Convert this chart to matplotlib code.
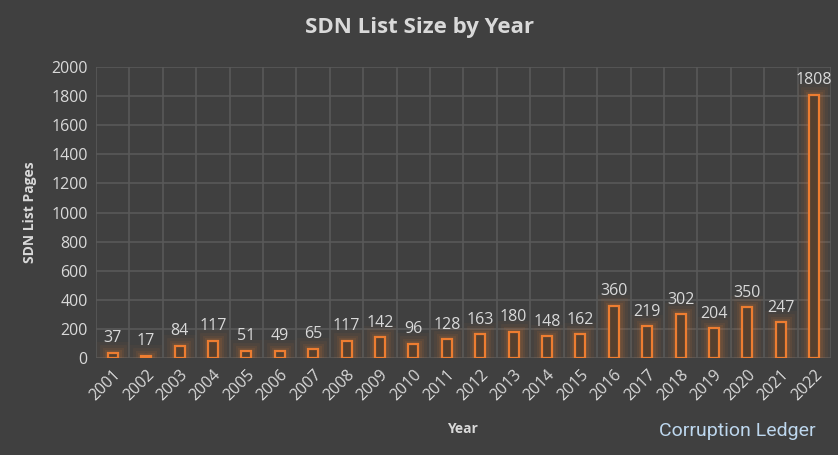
import matplotlib
matplotlib.use("Agg")
import matplotlib.pyplot as plt
import numpy as np

years = [str(y) for y in range(2001, 2023)]
pages = [37, 17, 84, 117, 51, 49, 65, 117, 142, 96, 128, 163, 180, 148, 162,
         360, 219, 302, 204, 350, 247, 1808]
y_ticks = list(range(0, 2001, 200))

BG = "#404040"
GRID = "#595959"
ORANGE = "#ED7D31"
TEXT = "#D9D9D9"

plt.rcParams["font.family"] = ["Open Sans", "DejaVu Sans"]

fig = plt.figure(figsize=(8.38, 4.55), dpi=100, facecolor=BG)
ax = fig.add_axes([0.1146, 0.2132, 0.8770, 0.6395], facecolor=BG)

x = np.arange(len(years))

# glow: wide, faint orange layers under each bar
for lw, a in [(16, 0.04), (12, 0.06), (8, 0.08), (5, 0.10)]:
    ax.bar(x, pages, width=0.3, facecolor="none", edgecolor=ORANGE,
           linewidth=lw, alpha=a, zorder=2)
ax.bar(x, pages, width=0.3, facecolor="#55402f", edgecolor=ORANGE,
       linewidth=1.6, zorder=3)

for xi, v in zip(x, pages):
    ax.text(xi, v + 45, str(v), ha="center", va="bottom", color=TEXT,
            fontsize=11.5, zorder=4)

ax.set_xlim(-0.5, len(years) - 0.5)
ax.set_ylim(0, 2000)
ax.set_yticks(y_ticks)
ax.set_yticklabels([str(t) for t in y_ticks], color=TEXT, fontsize=11.5)
ax.set_xticks(x)
ax.set_xticklabels(years, rotation=45, ha="right", rotation_mode="anchor",
                   color=TEXT, fontsize=11.5)
ax.set_xticks(np.arange(-0.5, len(years)), minor=True)
ax.tick_params(which="both", length=0, pad=6)
ax.grid(axis="y", which="major", color=GRID, linewidth=1.2, zorder=0)
ax.grid(axis="x", which="minor", color=GRID, linewidth=1.2, zorder=0)
ax.set_axisbelow(True)
for s in ax.spines.values():
    s.set_visible(False)

ax.set_ylabel("SDN List Pages", color=TEXT, fontsize=10, fontweight="bold",
              labelpad=10)
fig.text(0.552, 0.048, "Year", ha="center", color=TEXT, fontsize=10,
         fontweight="bold")
fig.text(0.5, 0.94, "SDN List Size by Year", ha="center", va="center",
         color=TEXT, fontsize=16, fontweight="bold")
fig.text(0.88, 0.042, "Corruption Ledger", ha="center", color="#BDD7EE",
         fontsize=14, family=["Roboto", "DejaVu Sans"])

fig.savefig("out.png", dpi=100, facecolor=BG)
